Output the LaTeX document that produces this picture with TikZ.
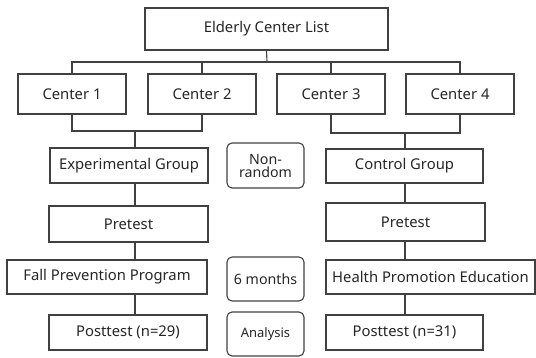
\documentclass[tikz,border=0pt]{standalone}
\usepackage{fontspec}
\setmainfont{Noto Sans}
\usepackage{tikz}
\usetikzlibrary{positioning,calc}

\definecolor{linegray}{HTML}{404040}
\definecolor{textgray}{HTML}{262626}

\begin{document}
\begin{tikzpicture}[x=1pt,y=-1pt,line width=1.1pt,
  every node/.style={font=\fontsize{14.8}{16}\selectfont,text=textgray},
  stage/.style={draw=linegray,rectangle,inner sep=0pt,align=center},
  note/.style={draw=linegray,rectangle,rounded corners=5pt,inner sep=0pt,
    align=center,minimum width=77pt,font=\fontsize{14.2}{15}\selectfont}]
 \useasboundingbox (0,0) rectangle (536,357);
 % sampling
 \node[stage,minimum width=243pt,minimum height=42pt] (list) at (266.5,29) {Elderly Center List};
 \node[stage,minimum width=108pt,minimum height=40pt] (c1) at (72,94) {Center 1};
 \node[stage,minimum width=108pt,minimum height=40pt] (c2) at (202,94) {Center 2};
 \node[stage,minimum width=108pt,minimum height=40pt] (c3) at (331,94) {Center 3};
 \node[stage,minimum width=108pt,minimum height=40pt] (c4) at (460,94) {Center 4};
 % experimental arm
 \node[stage,minimum width=158pt,minimum height=35pt] (expgrp) at (129,165.5) {Experimental Group};
 \node[stage,minimum width=159pt,minimum height=36pt] (pre1) at (128.5,224) {Pretest};
 \node[stage,minimum width=200pt,minimum height=34pt] (fall) at (107,277) {Fall Prevention Program};
 \node[stage,minimum width=158pt,minimum height=35pt] (post1) at (128,332.5) {Posttest (n=29)};
 % control arm
 \node[stage,minimum width=157pt,minimum height=34pt] (ctrlgrp) at (404.5,166) {Control Group};
 \node[stage,minimum width=159pt,minimum height=38pt] (pre2) at (405.5,222) {Pretest};
 \node[stage,minimum width=209pt,minimum height=34pt] (health) at (430.5,277) {Health Promotion Education};
 \node[stage,minimum width=157pt,minimum height=35pt] (post2) at (404.5,332.5) {Posttest (n=31)};
 % notes in the middle
 \node[note,minimum height=45pt] (nonrand) at (265.5,165.5) {Non-\\[-2pt]random};
 \node[note,minimum height=44pt] (months) at (265.5,279) {6 months};
 \node[note,minimum height=44pt,font=\fontsize{13}{15}\selectfont] (analysis) at (265.5,334) {Analysis};
 % connectors
 \coordinate (bus) at (267,62);
 \coordinate (joinl) at (135,131);
 \coordinate (joinr) at (405,133);
 \draw[linegray] (list.south) -- (bus);
 \draw[linegray] (c1.north) |- (bus) -| (c4.north);
 \draw[linegray] (c2.north) -- (c2.north |- bus);
 \draw[linegray] (c3.north) -- (c3.north |- bus);
 \draw[linegray] (c1.south) |- (joinl) -| (c2.south);
 \draw[linegray] (c3.south) |- (joinr) -| (c4.south);
 \draw[linegray] (joinl) -- (joinl |- expgrp.north);
 \draw[linegray] (joinr) -- (joinr |- ctrlgrp.north);
 \draw[linegray] (expgrp.south -| joinl) -- (pre1.north -| joinl);
 \draw[linegray] (pre1.south -| joinl) -- (fall.north -| joinl);
 \draw[linegray] (fall.south -| joinl) -- (post1.north -| joinl);
 \draw[linegray] (ctrlgrp.south -| joinr) -- (pre2.north -| joinr);
 \draw[linegray] (pre2.south -| joinr) -- (health.north -| joinr);
 \draw[linegray] (health.south -| joinr) -- (post2.north -| joinr);
\end{tikzpicture}
\end{document}
